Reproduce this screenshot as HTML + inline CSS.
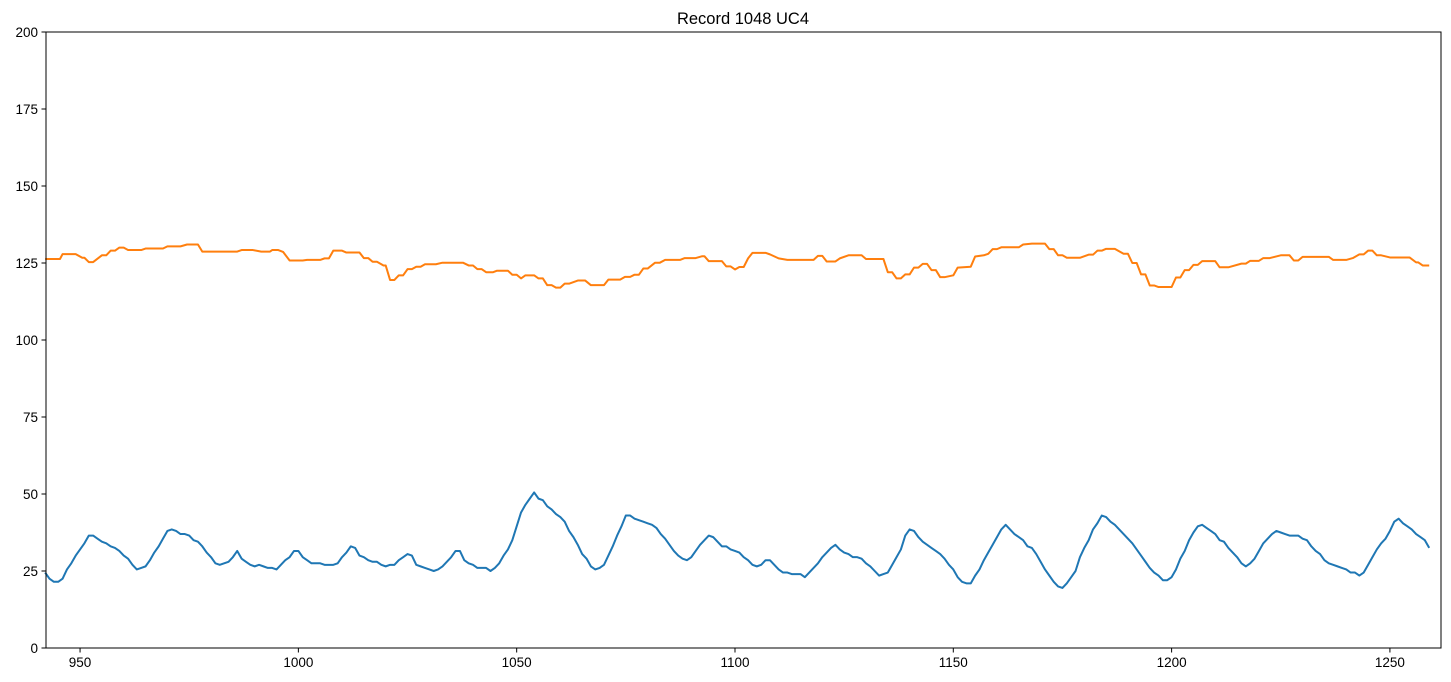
<!DOCTYPE html>
<html><head><meta charset="utf-8">
<style>
html,body{margin:0;padding:0;background:#fff;}
svg{display:block;font-family:"Liberation Sans","DejaVu Sans",sans-serif;}
</style></head>
<body>
<svg id="chart" width="1451" height="682" viewBox="0 0 1451 682" xmlns="http://www.w3.org/2000/svg">
<rect x="0" y="0" width="1451" height="682" fill="#fff"/>
<text x="743" y="24" text-anchor="middle" font-size="16.5" fill="#000">Record 1048 UC4</text>
<g id="grid"></g>
<g id="series"></g>
<rect x="46" y="32" width="1395" height="616" fill="none" stroke="#000" stroke-width="1"/>
<g id="axes"></g>
</svg>
<script>
const xTicks = [950, 1000, 1050, 1100, 1150, 1200, 1250];
const yTicks = [0, 25, 50, 75, 100, 125, 150, 175, 200];
const blueStart = 942;
const blueValues = [24.5,22.5,21.5,21.5,22.5,25.5,27.5,30,32,34,36.5,36.5,35.5,34.5,34,33,32.5,31.5,30,29,27,25.5,26,26.5,28.5,31,33,35.5,38,38.5,38,37,37,36.5,35,34.5,33,31,29.5,27.5,27,27.5,28,29.5,31.5,29,28,27,26.5,27,26.5,26,26,25.5,27,28.5,29.5,31.5,31.5,29.5,28.5,27.5,27.5,27.5,27,27,27,27.5,29.5,31,33,32.5,30,29.5,28.5,28,28,27,26.5,27,27,28.5,29.5,30.5,30,27,26.5,26,25.5,25,25.5,26.5,28,29.5,31.5,31.5,28.5,27.5,27,26,26,26,25,26,27.5,30,32,35,39.5,44,46.5,48.5,50.5,48.5,48,46,45,43.5,42.5,41,38,36,33.5,30.5,29,26.5,25.5,26,27,30,33,36.5,39.5,43,43,42,41.5,41,40.5,40,39,37,35.5,33.5,31.5,30,29,28.5,29.5,31.5,33.5,35,36.5,36,34.5,33,33,32,31.5,31,29.5,28.5,27,26.5,27,28.5,28.5,27,25.5,24.5,24.5,24,24,24,23,24.5,26,27.5,29.5,31,32.5,33.5,32,31,30.5,29.5,29.5,29,27.5,26.5,25,23.5,24,24.5,27,29.5,32,36.5,38.5,38,36,34.5,33.5,32.5,31.5,30.5,29,27,25.5,23,21.5,21,21,23.5,25.5,28.5,31,33.5,36,38.5,40,38.5,37,36,35,33,32.5,30.5,28,25.5,23.5,21.5,20,19.5,21,23,25,29.5,32.5,35,38.5,40.5,43,42.5,41,40,38.5,37,35.5,34,32,30,28,26,24.5,23.5,22,22,23,25.5,29,31.5,35,37.5,39.5,40,39,38,37,35,34.5,32.5,31,29.5,27.5,26.5,27.5,29,31.5,34,35.5,37,38,37.5,37,36.5,36.5,36.5,35.5,35,33,31.5,30.5,28.5,27.5,27,26.5,26,25.5,24.5,24.5,23.5,24.5,27,29.5,32,34,35.5,38,41,42,40.5,39.5,38.5,37,36,35,32.5];
const orangeX = [942,945.4,946,949,950.5,951,952,953,955,956,957,958,959,960,961,964,965,969,970,973,974.5,977,978,986,987,989.6,991.5,993.5,994,995.4,996.5,998,1001,1002,1005,1006,1007,1008,1010,1011,1014,1015,1016,1017,1018,1019.5,1020,1021,1022,1023,1024,1025,1026,1027,1028,1029,1031.5,1033,1037.7,1039,1040,1041,1042,1043,1044.6,1045.5,1048,1049,1050,1051,1052,1054,1055,1056,1057,1058,1059,1060,1061,1062,1064,1065.7,1067,1070,1071,1073.7,1074.8,1076,1077,1078,1079,1080,1081.7,1082.8,1084,1087.4,1088.5,1091,1092.5,1093,1094,1097,1098,1099,1100,1101,1102,1103,1104,1107,1108,1110,1112,1118,1119,1120,1121,1123,1124,1126,1129,1130,1134,1135,1136,1137,1138,1139,1140,1141,1142,1143,1144,1145,1146,1147,1148,1150,1151,1154,1155,1157,1158,1159,1160,1161,1165,1166,1168,1171,1172,1173,1174,1175,1176,1179,1181,1182,1183,1184,1185,1187,1189,1190,1191,1192,1193,1194,1195,1196,1197,1200,1201,1202,1203,1204,1205,1206,1207,1210,1211,1213,1216,1217,1218,1220,1221,1222.5,1225,1227,1228,1229,1230,1236,1237,1240,1241.5,1243,1244,1245,1246,1247,1248,1250,1254.5,1256,1256.5,1257.5,1259];
const orangeValues = [126.3,126.3,127.9,127.9,126.7,126.7,125.3,125.3,127.5,127.5,129,129,130,130,129.2,129.2,129.7,129.7,130.4,130.4,131,131,128.7,128.7,129.2,129.2,128.7,128.7,129.2,129.2,128.6,125.8,125.8,126,126,126.5,126.5,129,129,128.4,128.4,126.6,126.6,125.4,125.4,124.2,124.2,119.5,119.5,121,121,123,123,123.8,123.8,124.6,124.6,125.1,125.1,124.2,124.2,123,123,122,122,122.5,122.5,121.2,121.2,120,121,121,120,120,117.8,117.8,117,117,118.3,118.3,119.3,119.3,117.8,117.8,119.6,119.6,120.5,120.5,121.2,121.2,123.2,123.2,125.1,125.1,126,126,126.6,126.6,127.2,127.2,125.6,125.6,123.9,123.9,122.9,123.7,123.7,126.5,128.3,128.3,127.8,126.5,126,126,127.3,127.3,125.5,125.5,126.5,127.5,127.5,126.3,126.3,122,122,120,120,121.3,121.3,123.5,123.5,124.7,124.7,122.7,122.7,120.4,120.4,121,123.5,123.8,127.1,127.5,128,129.5,129.5,130.1,130.1,131,131.3,131.3,129.5,129.5,127.5,127.5,126.7,126.7,127.7,127.7,129,129,129.6,129.6,128,128,125,125,121.3,121.3,117.7,117.7,117.2,117.2,120.3,120.3,122.7,122.7,124.4,124.4,125.6,125.6,123.6,123.6,124.8,124.8,125.7,125.7,126.6,126.6,127.5,127.5,125.8,125.8,127,127,126,126,126.6,127.8,127.8,129,129,127.5,127.5,126.8,126.8,125.2,125.2,124.2,124.2];

const L=46,R=1441,T=32,B=648;
const xMin=942.2,xMax=1261.7,yMin=0,yMax=200;
function xs(v){return L+(v-xMin)/(xMax-xMin)*(R-L);}
function ys(v){return B-(v-yMin)/(yMax-yMin)*(B-T);}
const NS="http://www.w3.org/2000/svg";
const axes=document.getElementById('axes');
const series=document.getElementById('series');

xTicks.forEach(t=>{
  const x=xs(t);
  const ln=document.createElementNS(NS,'line');
  ln.setAttribute('x1',x);ln.setAttribute('x2',x);ln.setAttribute('y1',B);ln.setAttribute('y2',B+4.5);
  ln.setAttribute('stroke','#000');
  
  
  axes.appendChild(ln);
  const tx=document.createElementNS(NS,'text');
  tx.setAttribute('x',x);tx.setAttribute('y',B+19);tx.setAttribute('text-anchor','middle');
  tx.setAttribute('font-size','13.5');tx.textContent=t;
  
  
  axes.appendChild(tx);
});
yTicks.forEach(t=>{
  const y=ys(t);
  const ln=document.createElementNS(NS,'line');
  ln.setAttribute('x1',L-4.5);ln.setAttribute('x2',L);ln.setAttribute('y1',y);ln.setAttribute('y2',y);
  ln.setAttribute('stroke','#000');
  
  
  axes.appendChild(ln);
  const tx=document.createElementNS(NS,'text');
  tx.setAttribute('x',L-8);tx.setAttribute('y',y+5);tx.setAttribute('text-anchor','end');
  tx.setAttribute('font-size','13.5');tx.textContent=t;
  
  
  axes.appendChild(tx);
});

const bluePts=blueValues.map((v,i)=>xs(blueStart+i).toFixed(2)+','+ys(v).toFixed(2)).join(' ');
const pb=document.createElementNS(NS,'polyline');
pb.setAttribute('points',bluePts);pb.setAttribute('fill','none');
pb.setAttribute('stroke','#1f77b4');pb.setAttribute('stroke-width','2');pb.setAttribute('stroke-linejoin','round');


series.appendChild(pb);

const orangePts=orangeValues.map((v,i)=>xs(orangeX[i]).toFixed(2)+','+ys(v).toFixed(2)).join(' ');
const po=document.createElementNS(NS,'polyline');
po.setAttribute('points',orangePts);po.setAttribute('fill','none');
po.setAttribute('stroke','#ff7f0e');po.setAttribute('stroke-width','2');po.setAttribute('stroke-linejoin','round');


series.appendChild(po);
</script>
</body></html>
